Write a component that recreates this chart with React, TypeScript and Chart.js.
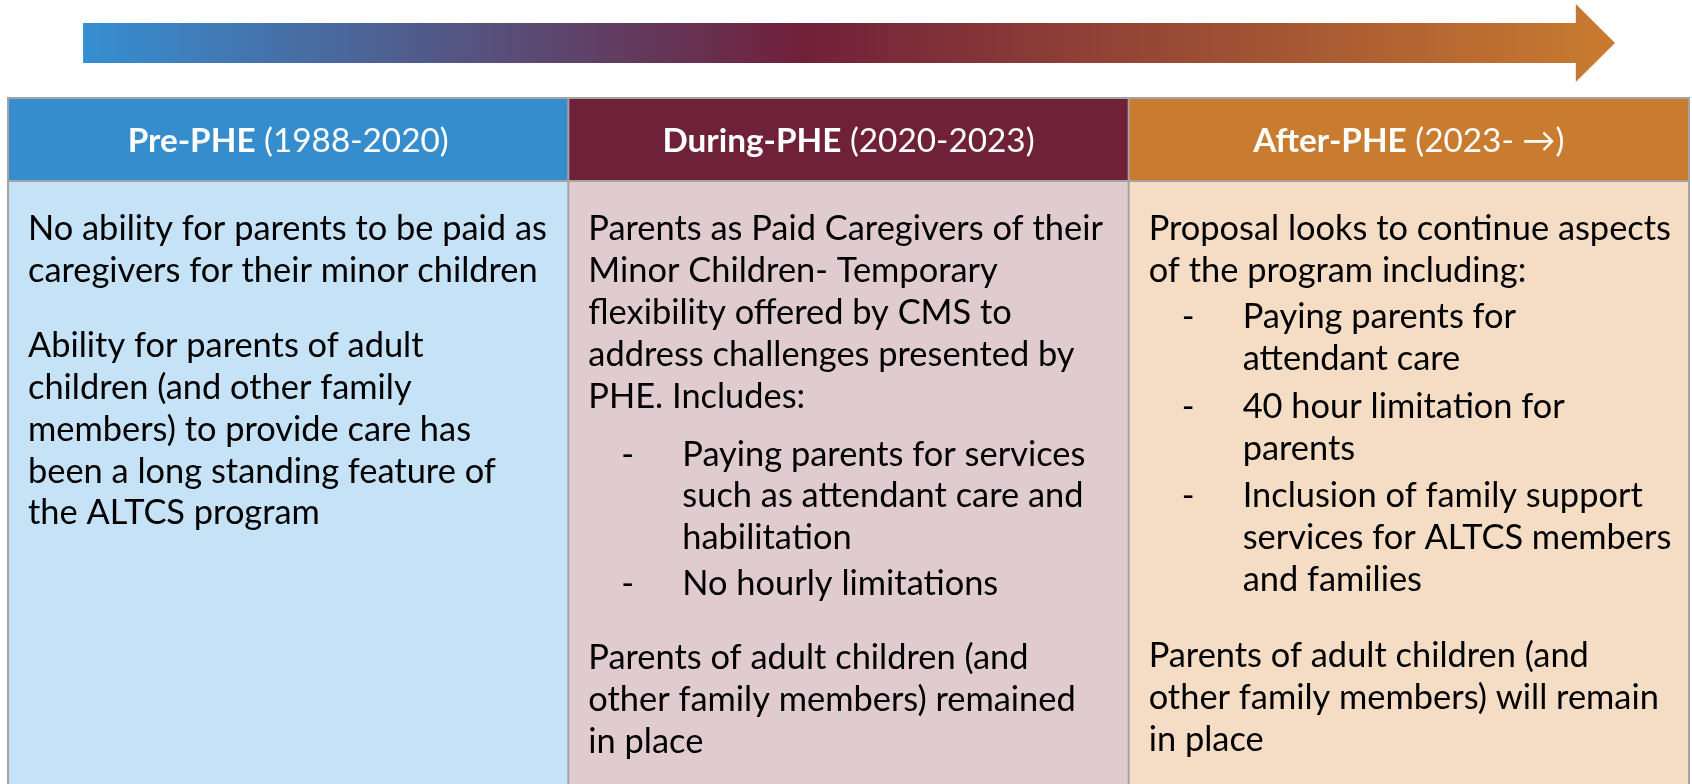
import React, { useEffect, useRef } from "react";
import { Chart, registerables } from "chart.js";

Chart.register(...registerables);

// ---- data ----
const PHASES = ["Pre-PHE", "During-PHE", "After-PHE"];
const PERIODS = ["(1988-2020)", "(2020-2023)", "(2023- \u2192)"];
const HEADER_ROW: [number, number] = [98, 181];
const BODY_ROW: [number, number] = [181, 800];
const HEADER_COLORS = ["#368dcd", "#6f2139", "#c97c2f"];
const BODY_COLORS = ["#c5e2f6", "#dfcbd0", "#f5ddc5"];

type Block = { lines: string[]; bullet?: boolean; gap?: number };

const PRE_TEXT: Block[] = [
  { lines: ["No ability for parents to be paid as", "caregivers for their minor children"] },
  {
    gap: 33,
    lines: [
      "Ability for parents of adult",
      "children (and other family",
      "members) to provide care has",
      "been a long standing feature of",
      "the ALTCS program",
    ],
  },
];

const DURING_TEXT: Block[] = [
  {
    lines: [
      "Parents as Paid Caregivers of their",
      "Minor Children- Temporary",
      "flexibility offered by CMS to",
      "address challenges presented by",
      "PHE. Includes:",
    ],
  },
  { bullet: true, gap: 16, lines: ["Paying parents for services", "such as attendant care and", "habilitation"] },
  { bullet: true, gap: 4, lines: ["No hourly limitations"] },
  { gap: 32, lines: ["Parents of adult children (and", "other family members) remained", "in place"] },
];

const AFTER_TEXT: Block[] = [
  { lines: ["Proposal looks to continue aspects", "of the program including:"] },
  { bullet: true, gap: 4, lines: ["Paying parents for", "attendant care"] },
  { bullet: true, gap: 6, lines: ["40 hour limitation for", "parents"] },
  { bullet: true, gap: 6, lines: ["Inclusion of family support", "services for ALTCS members", "and families"] },
  { gap: 34, lines: ["Parents of adult children (and", "other family members) will remain", "in place"] },
];

const COLUMN_TEXT = [PRE_TEXT, DURING_TEXT, AFTER_TEXT];

// arrow extent in column units (x) and row units (y)
const ARROW_X = [0.134, 2.798, 2.868];
const ARROW_BODY_Y = [23, 63];
const ARROW_HEAD_Y = [4, 82];
const ARROW_STOPS: [number, string][] = [
  [0, "#358fd2"],
  [0.47, "#71203a"],
  [1, "#c97c2f"],
];

const FONT = "Lato, 'Open Sans', sans-serif";
const BODY_SIZE = 34.4;
const HEADER_SIZE = 33.3;
const LINE_STEP = 41.9;
const FIRST_LINE_Y = 229;

const tablePlugin = {
  id: "tableDecor",
  afterDatasetsDraw(chart: any) {
    const { ctx, chartArea } = chart;
    const xs = chart.scales.x;
    const ys = chart.scales.y;
    const n = PHASES.length;
    const colW = (chartArea.right - chartArea.left) / n;
    const colX = (u: number) => chartArea.left + u * colW;

    // grid lines
    ctx.save();
    ctx.strokeStyle = "#a3a3a3";
    ctx.lineWidth = 2;
    const top = ys.getPixelForValue(HEADER_ROW[0]);
    const mid = ys.getPixelForValue(HEADER_ROW[1]);
    const bottom = ys.getPixelForValue(BODY_ROW[1]);
    const left = colX(0);
    const right = colX(n);
    ctx.beginPath();
    ctx.moveTo(left, top);
    ctx.lineTo(right, top);
    ctx.moveTo(left, mid);
    ctx.lineTo(right, mid);
    for (let i = 0; i <= n; i++) {
      const px = colX(i);
      ctx.moveTo(px, top - 1);
      ctx.lineTo(px, bottom);
    }
    ctx.stroke();

    // headers
    ctx.fillStyle = "#ffffff";
    ctx.textBaseline = "middle";
    ctx.textAlign = "left";
    const hy = (top + mid) / 2 + 2;
    PHASES.forEach((p, i) => {
      const cx = xs.getPixelForValue(i);
      ctx.font = `bold ${HEADER_SIZE}px ${FONT}`;
      const w1 = ctx.measureText(p).width;
      ctx.font = `${HEADER_SIZE}px ${FONT}`;
      const rest = " " + PERIODS[i];
      const w2 = ctx.measureText(rest).width;
      const sx = cx - (w1 + w2) / 2;
      ctx.font = `bold ${HEADER_SIZE}px ${FONT}`;
      ctx.fillText(p, sx, hy);
      ctx.font = `${HEADER_SIZE}px ${FONT}`;
      ctx.fillText(rest, sx + w1, hy);
    });

    // body text
    ctx.fillStyle = "#000000";
    ctx.font = `${BODY_SIZE}px ${FONT}`;
    COLUMN_TEXT.forEach((blocks, i) => {
      const colLeft = colX(i);
      let y = ys.getPixelForValue(FIRST_LINE_Y);
      blocks.forEach((b, bi) => {
        if (bi > 0) y += LINE_STEP + (b.gap || 0);
        b.lines.forEach((line, li) => {
          if (li > 0) y += LINE_STEP;
          if (b.bullet) {
            if (li === 0) ctx.fillText("-", colLeft + 53, y);
            ctx.fillText(line, colLeft + 114, y);
          } else {
            ctx.fillText(line, colLeft + 20, y);
          }
        });
      });
    });

    // arrow
    const ax0 = colX(ARROW_X[0]);
    const ax1 = colX(ARROW_X[1]);
    const ax2 = colX(ARROW_X[2]);
    const by0 = ys.getPixelForValue(ARROW_BODY_Y[0]);
    const by1 = ys.getPixelForValue(ARROW_BODY_Y[1]);
    const hy0 = ys.getPixelForValue(ARROW_HEAD_Y[0]);
    const hy1 = ys.getPixelForValue(ARROW_HEAD_Y[1]);
    const g = ctx.createLinearGradient(ax0, 0, ax2, 0);
    ARROW_STOPS.forEach(([o, c]) => g.addColorStop(o, c));
    ctx.fillStyle = g;
    ctx.beginPath();
    ctx.moveTo(ax0, by0);
    ctx.lineTo(ax1, by0);
    ctx.lineTo(ax1, hy0);
    ctx.lineTo(ax2, (hy0 + hy1) / 2);
    ctx.lineTo(ax1, hy1);
    ctx.lineTo(ax1, by1);
    ctx.lineTo(ax0, by1);
    ctx.closePath();
    ctx.fill();
    ctx.restore();
  },
};

export default function App() {
  const ref = useRef<HTMLCanvasElement | null>(null);
  useEffect(() => {
    document.body.style.margin = "0";
    document.body.style.overflow = "hidden";
    if (!ref.current) return;
    const chart = new Chart(ref.current, {
      type: "bar",
      data: {
        labels: PHASES,
        datasets: [
          {
            label: "header",
            data: PHASES.map(() => HEADER_ROW) as any,
            backgroundColor: HEADER_COLORS,
            borderWidth: 0,
            barPercentage: 1,
            categoryPercentage: 1,
            grouped: false,
          },
          {
            label: "body",
            data: PHASES.map(() => BODY_ROW) as any,
            backgroundColor: BODY_COLORS,
            borderWidth: 0,
            barPercentage: 1,
            categoryPercentage: 1,
            grouped: false,
          },
        ],
      },
      options: {
        animation: false,
        responsive: false,
        devicePixelRatio: 1,
        layout: { padding: { left: 8, right: 3, top: 0, bottom: 0 } },
        scales: {
          x: { type: "category", offset: true, display: false },
          y: { type: "linear", min: 0, max: 784, reverse: true, display: false },
        },
        plugins: { legend: { display: false }, tooltip: { enabled: false } },
      },
      plugins: [tablePlugin],
    });
    return () => chart.destroy();
  }, []);
  return (
    <div style={{ position: "fixed", left: 0, top: 0, width: 1692, height: 784, background: "#fff" }}>
      <canvas ref={ref} width={1692} height={784} style={{ display: "block" }} />
    </div>
  );
}
